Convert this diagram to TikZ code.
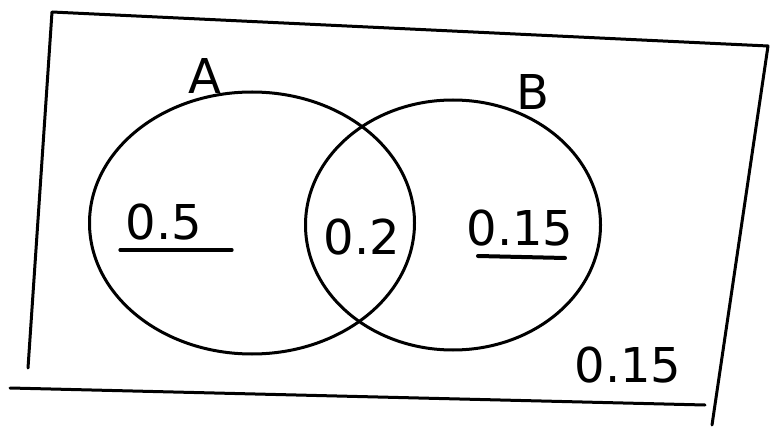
\documentclass[tikz,border=0pt]{standalone}
\usepackage{fontspec}
\setmainfont{DejaVu Sans}
\usetikzlibrary{shapes.geometric}
\begin{document}
\begin{tikzpicture}[x=1pt,y=-1pt,
  ink/.style={line width=3pt,black,line cap=round,line join=round},
  lbl/.style={font=\fontsize{48}{50}\selectfont,inner sep=0pt},
  uline/.style={line width=3.2pt,black,line cap=round}]
\useasboundingbox (0,0) rectangle (770,430);
% frame
\coordinate (tl) at (52,12);
\coordinate (tr) at (768,46);
\coordinate (br) at (712,425);
\coordinate (bl) at (28,368);
\coordinate (b0) at (10,388);
\coordinate (b1) at (705,405);
\draw[ink] (bl) -- (tl) -- (tr) -- (br);
\draw[ink] (b0) -- (b1);
% circles
\node[ink,draw,ellipse,minimum width=325pt,minimum height=262pt] (A) at (252,223) {};
\node[ink,draw,ellipse,minimum width=295pt,minimum height=250pt] (B) at (453,225) {};
% labels
\node[lbl] (la) at (205,76) {A};
\node[lbl] (lb) at (533,92) {B};
\node[lbl] (v1) at (164,222) {0.5};
\node[lbl] (v2) at (362,237) {0.2};
\node[lbl] (v3) at (520,228) {0.15};
\node[lbl] (v4) at (628,365) {0.15};
\coordinate (u1a) at (120,250);
\coordinate (u1b) at (232,250);
\coordinate (u3a) at (478,256);
\coordinate (u3b) at (565,258);
\draw[uline] (u1a) -- (u1b);
\draw[uline,line width=4pt] (u3a) -- (u3b);
\end{tikzpicture}
\end{document}
